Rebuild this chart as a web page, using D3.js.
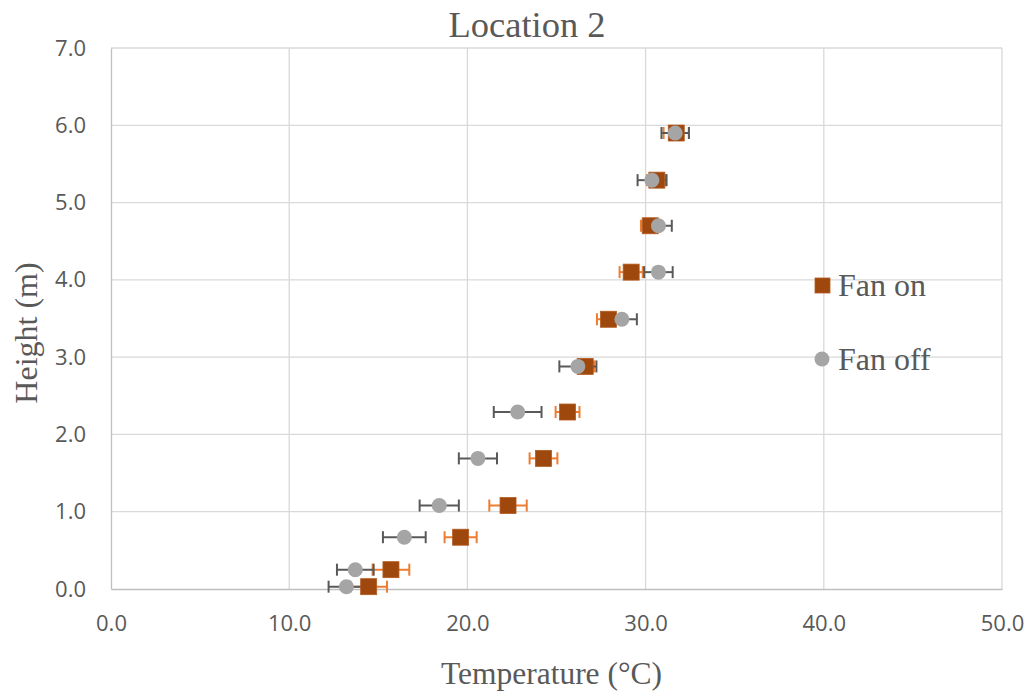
<!DOCTYPE html>
<html>
<head>
<meta charset="utf-8">
<script src="https://cdn.jsdelivr.net/npm/d3@7"></script>
<style>
  body { margin: 0; background: #fff; }
  .tick text { font-family: "Open Sans", sans-serif; font-size: 22px; fill: #595959; }
  .ttl { font-family: "Liberation Serif", "Times New Roman", serif; fill: #595959; }
</style>
</head>
<body>
<svg id="chart" width="1031" height="698"></svg>
<script>
const heights = [0.03, 0.25, 0.67, 1.08, 1.69, 2.29, 2.88, 3.49, 4.10, 4.70, 5.29, 5.90];
const fanOn = [14.46, 15.71, 19.62, 22.28, 24.27, 25.62, 26.61, 27.92, 29.19, 30.26, 30.63, 31.72];
const fanOnErr = [1.03, 1.03, 0.9, 1.05, 0.78, 0.67, 0.5, 0.65, 0.65, 0.52, 0.56, 0.71];
const fanOff = [13.21, 13.71, 16.46, 18.42, 20.59, 22.82, 26.20, 28.67, 30.72, 30.72, 30.35, 31.66];
const fanOffErr = [1.0, 1.03, 1.2, 1.1, 1.07, 1.34, 1.04, 0.84, 0.8, 0.75, 0.8, 0.77];
const xTicks = [0, 10, 20, 30, 40, 50];
const yTicks = [0, 1, 2, 3, 4, 5, 6, 7];

const margin = { top: 48, right: 29, bottom: 109, left: 111 },
    width = 1031 - margin.left - margin.right,
    height = 698 - margin.top - margin.bottom;

const svg = d3.select("#chart");
const g = svg.append("g").attr("transform", `translate(${margin.left},${margin.top})`);

const x = d3.scaleLinear().domain([0, 50]).range([0, width]);
const y = d3.scaleLinear().domain([0, 7]).range([height, 0]);

// grid
g.append("g").selectAll("line").data(xTicks.slice(1)).enter().append("line")
    .attr("x1", d => x(d)).attr("x2", d => x(d))
    .attr("y1", 0).attr("y2", height)
    .attr("stroke", "#d9d9d9").attr("stroke-width", 1.3);
g.append("g").selectAll("line").data(yTicks.slice(1)).enter().append("line")
    .attr("x1", 0).attr("x2", width)
    .attr("y1", d => y(d)).attr("y2", d => y(d))
    .attr("stroke", "#d9d9d9").attr("stroke-width", 1.3);

// axes
const xAxis = g.append("g").attr("transform", `translate(0,${height})`)
    .call(d3.axisBottom(x).tickValues(xTicks).tickFormat(d3.format(".1f")).tickSize(0).tickPadding(26));
xAxis.select(".domain").attr("stroke", "#bfbfbf").attr("stroke-width", 1.3);
const yAxis = g.append("g")
    .call(d3.axisLeft(y).tickValues(yTicks).tickFormat(d3.format(".1f")).tickSize(0).tickPadding(25));
yAxis.select(".domain").attr("stroke", "#bfbfbf").attr("stroke-width", 1.3);

// error bars
function errorBars(vals, errs, color) {
    const eg = g.append("g").attr("stroke", color).attr("stroke-width", 2).attr("fill", "none");
    vals.forEach((v, i) => {
        const cy = y(heights[i]);
        eg.append("line").attr("x1", x(v - errs[i])).attr("x2", x(v + errs[i])).attr("y1", cy).attr("y2", cy);
        [v - errs[i], v + errs[i]].forEach(e => {
            eg.append("line").attr("x1", x(e)).attr("x2", x(e)).attr("y1", cy - 6).attr("y2", cy + 6);
        });
    });
}
errorBars(fanOn, fanOnErr, "#ed7d31");
errorBars(fanOff, fanOffErr, "#595959");

// markers
g.append("g").selectAll("rect").data(fanOn).enter().append("rect")
    .attr("x", d => x(d) - 8).attr("y", (d, i) => y(heights[i]) - 8)
    .attr("width", 16).attr("height", 16)
    .attr("fill", "#9e480e").attr("stroke", "#b35a1f").attr("stroke-width", 0.8);
g.append("g").selectAll("circle").data(fanOff).enter().append("circle")
    .attr("cx", d => x(d)).attr("cy", (d, i) => y(heights[i]))
    .attr("r", 7.5).attr("fill", "#a5a5a5");

// titles
svg.append("text").attr("class", "ttl").attr("x", 527).attr("y", 37)
    .attr("text-anchor", "middle").attr("font-size", 36.5).text("Location 2");
svg.append("text").attr("class", "ttl").attr("x", 551.5).attr("y", 684)
    .attr("text-anchor", "middle").attr("font-size", 31.5).text("Temperature (°C)");
svg.append("text").attr("class", "ttl")
    .attr("transform", "translate(37,333) rotate(-90)")
    .attr("text-anchor", "middle").attr("font-size", 32).text("Height (m)");

// legend
const lg = svg.append("g");
lg.append("rect").attr("x", 815).attr("y", 278).attr("width", 15).attr("height", 15)
    .attr("fill", "#9e480e").attr("stroke", "#b35a1f").attr("stroke-width", 0.8);
lg.append("text").attr("class", "ttl").attr("x", 838).attr("y", 296)
    .attr("font-size", 32).text("Fan on");
lg.append("circle").attr("cx", 822).attr("cy", 359).attr("r", 7.5).attr("fill", "#a5a5a5");
lg.append("text").attr("class", "ttl").attr("x", 838).attr("y", 370)
    .attr("font-size", 32).text("Fan off");
</script>
</body>
</html>
